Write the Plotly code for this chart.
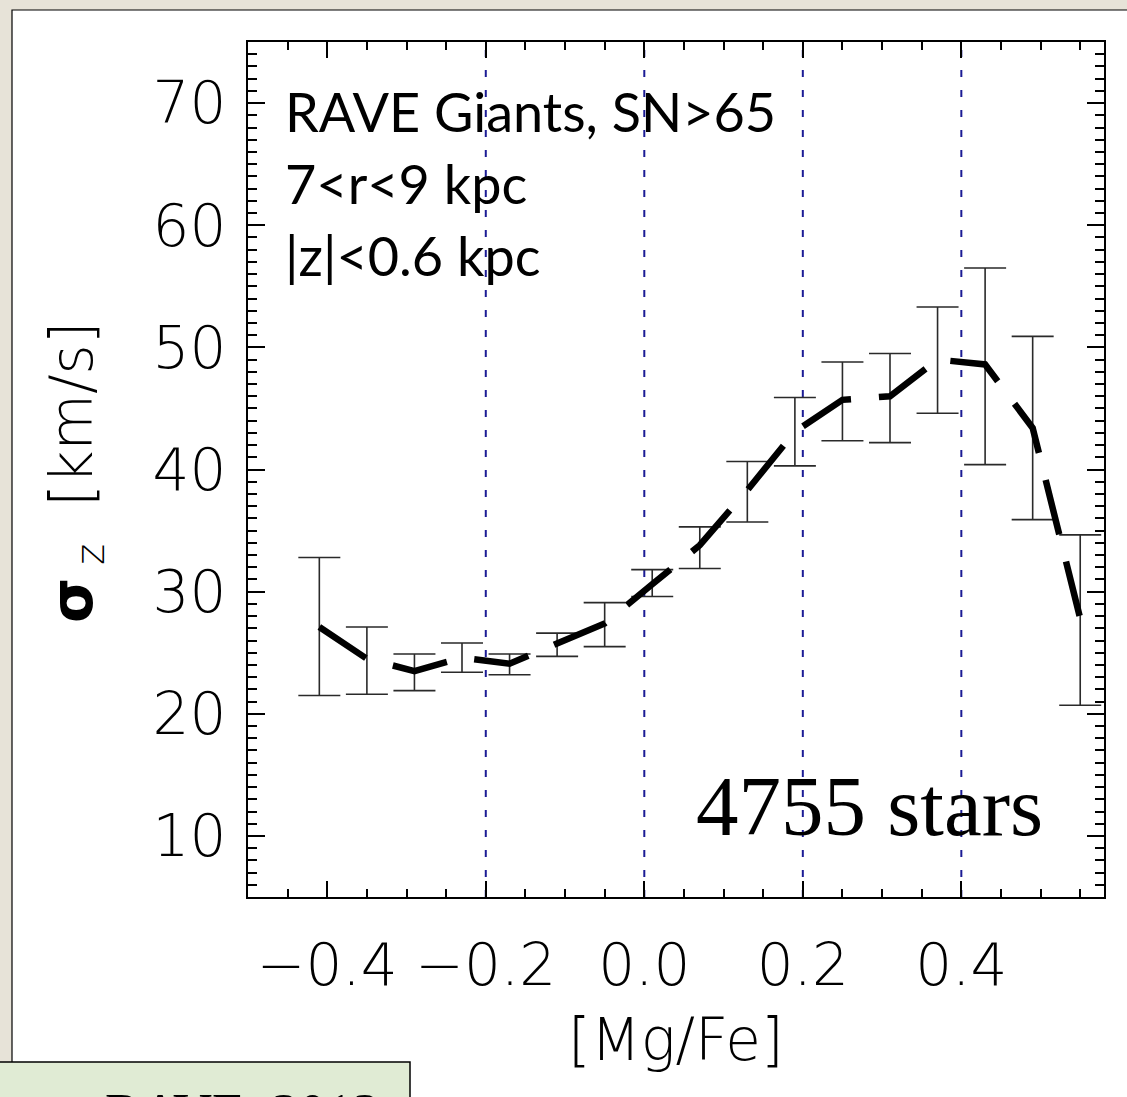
import plotly.graph_objects as go

# ---------------- data ----------------
mgfe = [-0.41, -0.35, -0.29, -0.23, -0.17, -0.11, -0.05, 0.01, 0.07,
        0.13, 0.19, 0.25, 0.31, 0.37, 0.43, 0.49, 0.55]
sigma_z = [27.1, 24.5, 23.5, 24.6, 24.1, 25.7, 27.4, 30.6, 33.8,
           38.3, 43.1, 45.7, 46.0, 49.0, 48.6, 43.4, 27.8]
err_low = [21.5, 21.6, 21.9, 23.4, 23.2, 24.7, 25.5, 29.6, 31.9,
           35.7, 40.3, 42.35, 42.2, 44.6, 40.4, 35.9, 20.7]
err_high = [32.8, 27.1, 24.9, 25.8, 24.9, 26.6, 29.1, 31.8, 35.3,
            40.65, 45.9, 48.8, 49.5, 53.3, 56.5, 50.9, 34.65]
vlines = [-0.2, 0.0, 0.2, 0.4]
x_tickvals = [-0.4, -0.2, 0.0, 0.2, 0.4]
x_ticktext = ["\u22120.4", "\u22120.2", "0.0", "0.2", "0.4"]
y_tickvals = [10, 20, 30, 40, 50, 60, 70]
y_ticktext = ["10", "20", "30", "40", "50", "60", "70"]
info_lines = ["RAVE Giants, SN>65", "7<r<9 kpc", "|z|<0.6 kpc"]
n_stars_label = "4755 stars"
footer_label = "RAVE, 2013"

# ---------------- layout geometry (pixels) ----------------
W, H = 1127, 1097
L, R, T, B = 248, 1104, 42, 897


def px(xp):
    return (xp - L) / (R - L)


def py(yp):
    return (B - yp) / (B - T)


BG = "#e7e3d8"
TICKFONT = dict(family="DejaVu Sans", size=58, color="black", weight=200)

fig = go.Figure()

# vertical dotted reference lines
for v in vlines:
    fig.add_trace(go.Scatter(
        x=[v, v], y=[5, 75], mode="lines",
        line=dict(color="#1c1c95", width=2, dash="7px,13px"),
        hoverinfo="skip", showlegend=False))

# error bars
fig.add_trace(go.Scatter(
    x=mgfe, y=sigma_z, mode="markers",
    marker=dict(size=0.1, color="rgba(0,0,0,0)"),
    error_y=dict(type="data", symmetric=False,
                 array=[h - s for h, s in zip(err_high, sigma_z)],
                 arrayminus=[s - l for s, l in zip(sigma_z, err_low)],
                 color="#2a2a2a", thickness=1.6, width=21),
    showlegend=False))

# dashed profile
fig.add_trace(go.Scatter(
    x=mgfe, y=sigma_z, mode="lines",
    line=dict(color="black", width=6.5, dash="56px,28px"),
    showlegend=False))

shapes = [
    # white slide panel
    dict(type="rect", xref="paper", yref="paper",
         x0=px(12), x1=px(1140), y0=py(1110), y1=py(10),
         fillcolor="white", line=dict(color="black", width=1.2), layer="below"),
    # green footer box
    dict(type="rect", xref="paper", yref="paper",
         x0=px(-5), x1=px(410), y0=py(1110), y1=py(1062),
         fillcolor="#e0ebd4", line=dict(color="black", width=1.5), layer="above"),
]

annotations = []
for i, t in enumerate(info_lines):
    annotations.append(dict(
        text=t, xref="paper", yref="paper", x=px(283), y=py(111 + 72.5 * i),
        xanchor="left", yanchor="middle", showarrow=False,
        font=dict(family="Lato", size=54, color="black")))

annotations.append(dict(
    text=n_stars_label, xref="paper", yref="paper", x=px(1045), y=py(806),
    xanchor="right", yanchor="middle", showarrow=False,
    font=dict(family="Liberation Serif", size=85, color="black")))

annotations.append(dict(
    text="[Mg/Fe]", xref="paper", yref="paper", x=0.5, y=py(1040),
    xanchor="center", yanchor="middle", showarrow=False,
    font=TICKFONT))

annotations.append(dict(
    text="<b>\u03c3</b><sub> z</sub>  [km/s]", xref="paper", yref="paper",
    x=px(76), y=py(473), textangle=-90,
    xanchor="center", yanchor="middle", showarrow=False,
    font=TICKFONT))

annotations.append(dict(
    text=footer_label, xref="paper", yref="paper", x=px(242), y=py(1081),
    xanchor="center", yanchor="top", showarrow=False,
    font=dict(family="Liberation Serif", size=54, color="black")))

fig.update_layout(
    width=W, height=H,
    margin=dict(l=L, r=W - R, t=T, b=H - B, pad=0),
    paper_bgcolor=BG, plot_bgcolor="white",
    shapes=shapes, annotations=annotations, showlegend=False,
)

fig.update_xaxes(
    range=[-0.5, 0.58], tickmode="array", tickvals=x_tickvals, ticktext=x_ticktext,
    ticks="inside", ticklen=16, tickwidth=1.5, tickcolor="black",
    showline=True, linewidth=2, linecolor="black", mirror="ticks",
    showgrid=False, zeroline=False, tickfont=TICKFONT, ticklabelstandoff=16,
    minor=dict(tickmode="linear", tick0=0, dtick=0.05, ticks="inside",
               ticklen=8, tickwidth=1.5, tickcolor="black", showgrid=False),
)
fig.update_yaxes(
    range=[5, 75], tickmode="array", tickvals=y_tickvals, ticktext=y_ticktext,
    ticks="inside", ticklen=17, tickwidth=1.5, tickcolor="black",
    showline=True, linewidth=2, linecolor="black", mirror="ticks",
    showgrid=False, zeroline=False, tickfont=TICKFONT, ticklabelstandoff=8,
    minor=dict(tickmode="linear", tick0=0, dtick=1, ticks="inside",
               ticklen=9, tickwidth=1.5, tickcolor="black", showgrid=False),
)

fig.write_html("out.html")
